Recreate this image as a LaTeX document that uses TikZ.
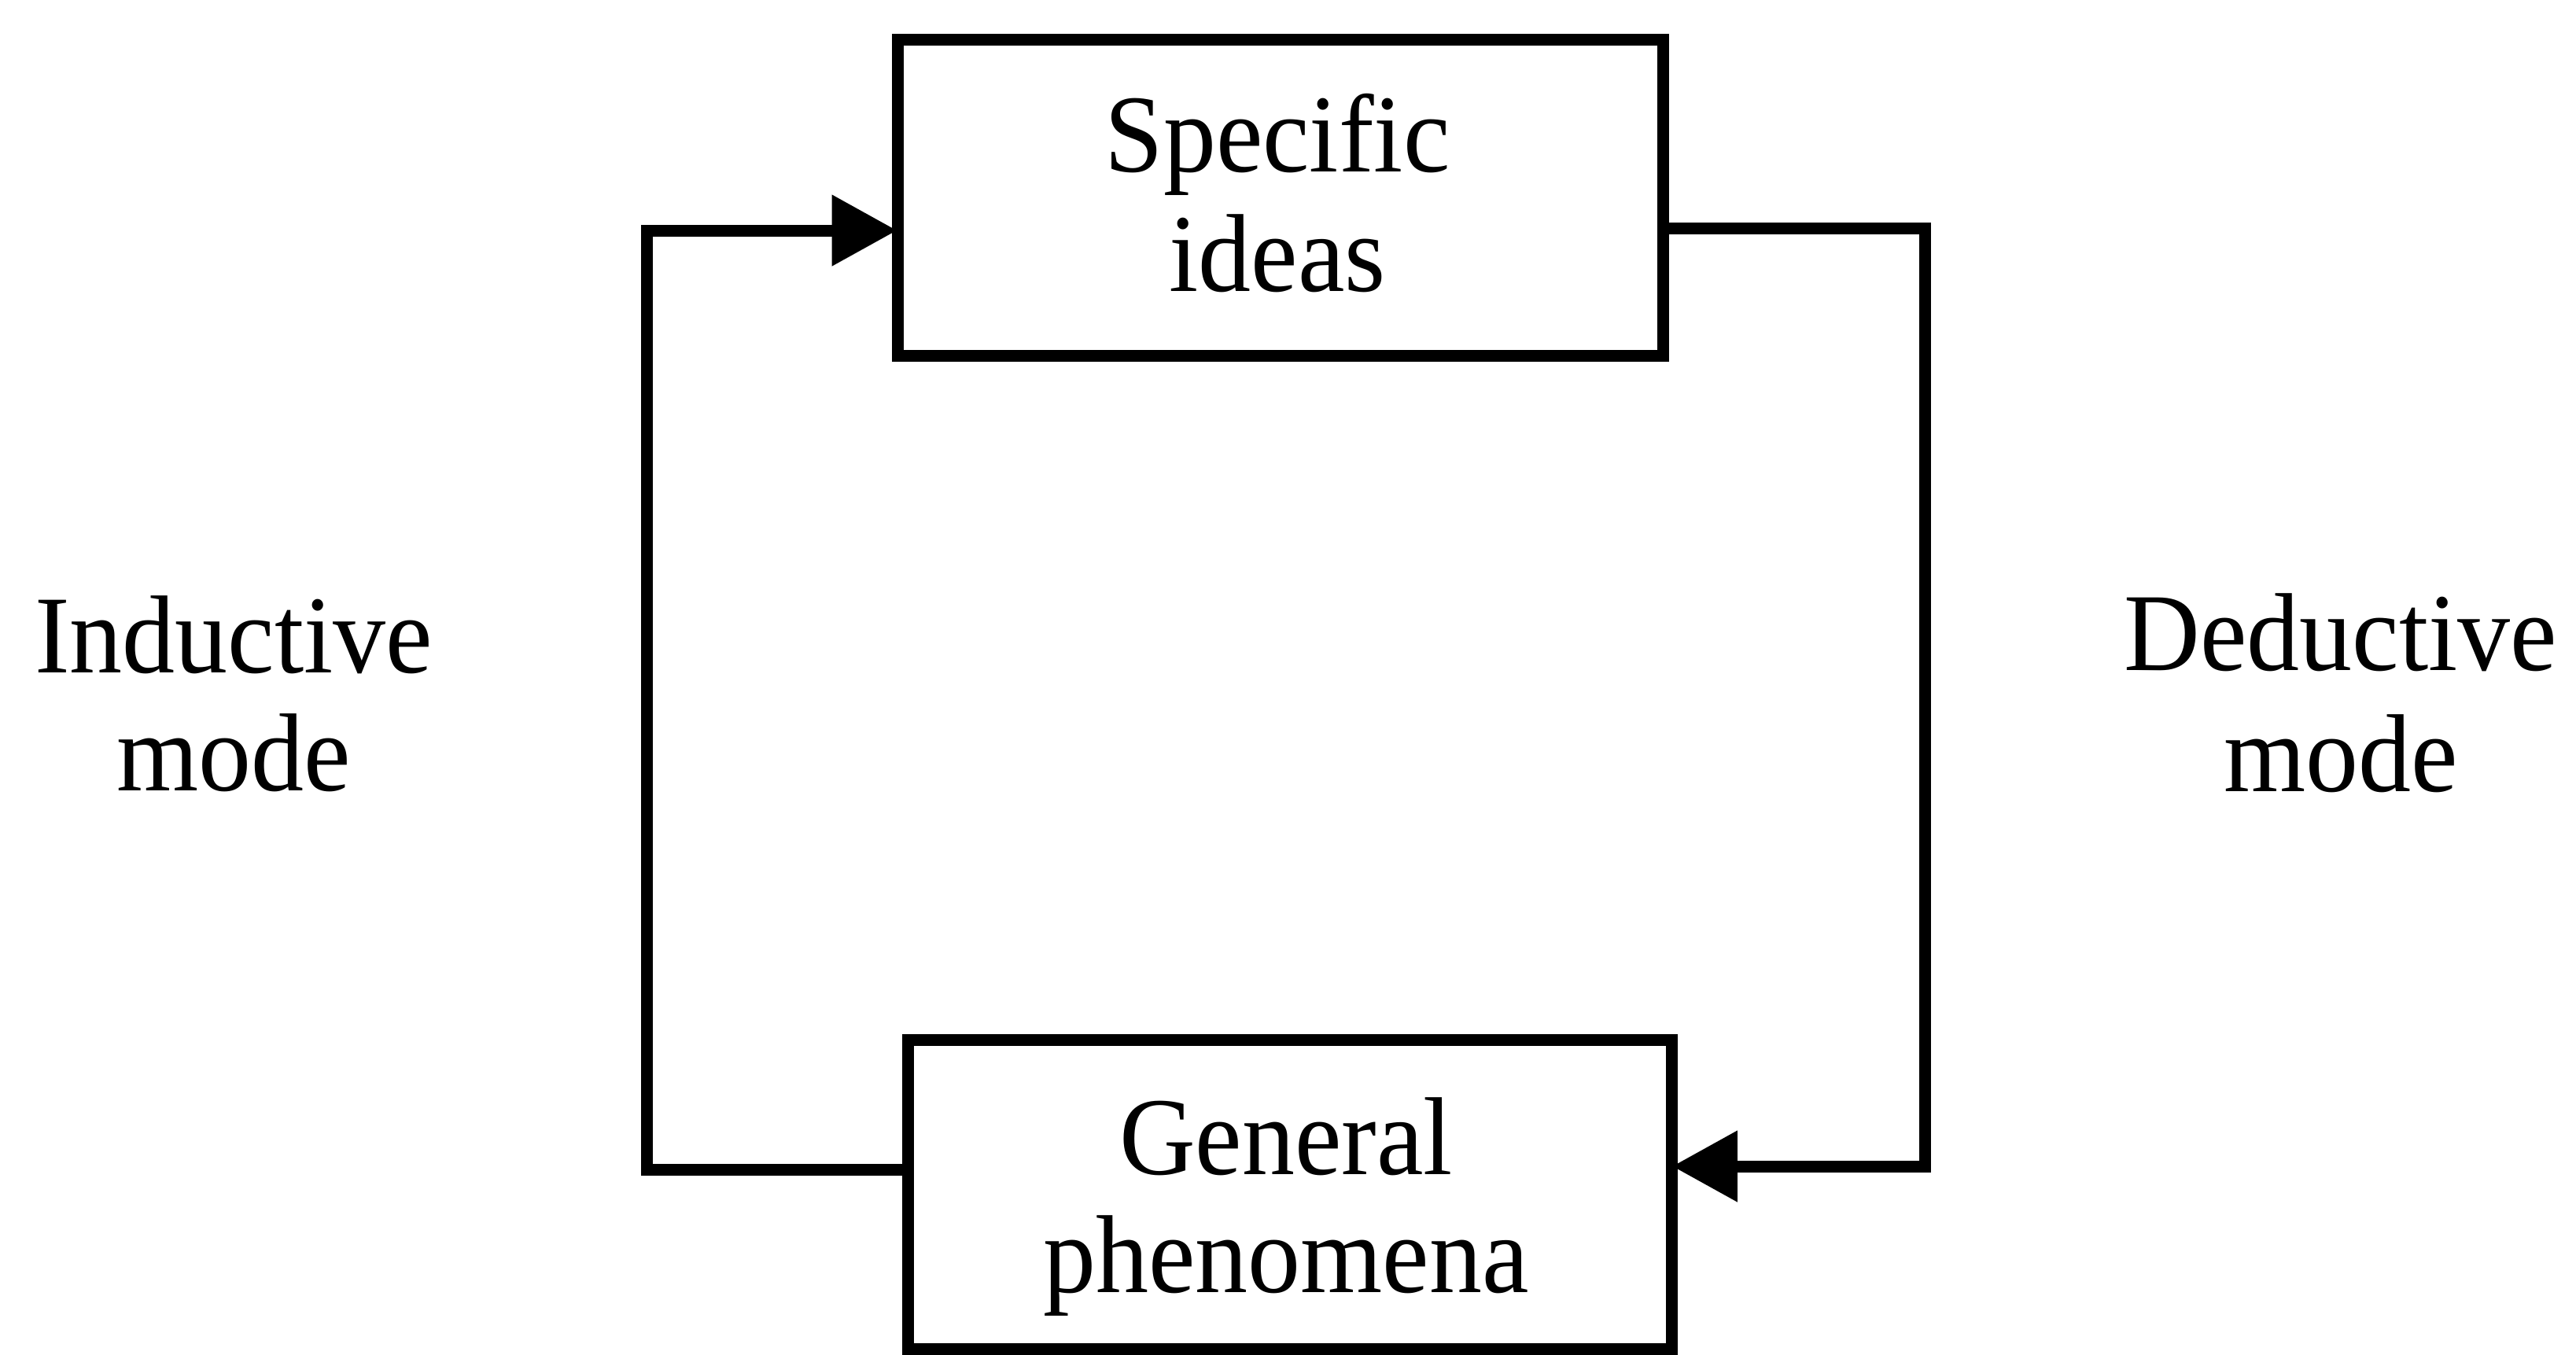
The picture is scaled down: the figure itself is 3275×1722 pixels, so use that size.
\documentclass[tikz,border=0pt]{standalone}
\usepackage{fontspec}
\setmainfont{Liberation Serif}[FakeStretch=0.95]
\usetikzlibrary{arrows.meta}
\begin{document}
\begin{tikzpicture}[x=0.1pt,y=-0.1pt,
  box/.style={draw, line width=1.5pt, rectangle, inner sep=0pt},
  word/.style={inner sep=0pt, anchor=base, font=\fontsize{14.1pt}{15.2pt}\selectfont},
  link/.style={line width=1.5pt, line join=miter,
    -{Triangle[length=8.3pt,width=8.7pt]}, shorten >=-0.7pt}]
\useasboundingbox (0,0) rectangle (3275,1722);

% the two boxes
\node[box, minimum width=97.4pt, minimum height=40.2pt] (spec) at (1628,251) {};
\node[box, minimum width=97.1pt, minimum height=39.3pt] (gen) at (1640,1519) {};

% box texts
\node[word] (specA) at (1624,218) {Specific};
\node[word] (specB) at (1624,370) {ideas};
\node[word] (genA) at (1635,1493) {General};
\node[word] (genB) at (1635,1643) {phenomena};

% side labels
\node[word] (indA) at (297,855) {Inductive};
\node[word] (indB) at (297,1005) {mode};
\node[word] (dedA) at (2976,852) {Deductive};
\node[word] (dedB) at (2976,1006) {mode};

% bends of the two loops
\coordinate (lbot) at (822,1487);
\coordinate (ltop) at (822,293);
\coordinate (rtop) at (2447,290);
\coordinate (rbot) at (2447,1483);

\draw[link] (gen.west |- lbot) -- (lbot) -- (ltop) -- (spec.west |- ltop);
\draw[link] (spec.east |- rtop) -- (rtop) -- (rbot) -- (gen.east |- rbot);
\end{tikzpicture}
\end{document}
